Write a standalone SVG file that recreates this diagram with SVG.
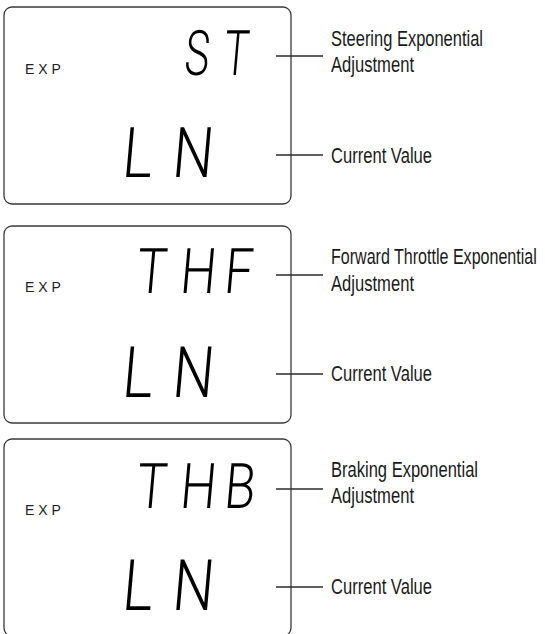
<svg xmlns="http://www.w3.org/2000/svg" width="545" height="634" viewBox="0 0 545 634">
<style>
.box{fill:#fff;stroke:#3a3a3a;stroke-width:1.3}
.lead{stroke:#2a2a2a;stroke-width:1.3;fill:none}
.lbl{font-family:"Liberation Sans",Arial,sans-serif;font-size:22px;fill:#1a1a1a}
.exp{font-family:"Liberation Sans",Arial,sans-serif;font-size:14px;fill:#222}
.lcd{font-family:Roboto,"Liberation Sans",sans-serif;font-weight:300;fill:#000}
</style>
<rect width="545" height="634" fill="#fff"/>
<g id="display1">
<rect class="box" x="4" y="7" width="287" height="197" rx="8"/>
<text class="exp" x="25" y="74">E X P</text>
<g transform="translate(183.2,75) skewX(-5) scale(0.66,1)"><text class="lcd" font-size="63" x="0 59" y="0">ST</text></g>
<g transform="translate(120.9,177) skewX(-5) scale(0.82,1)"><text class="lcd" font-size="70" x="0 61" y="0">LN</text></g>
</g>
<g id="display2">
<rect class="box" x="4" y="226" width="287" height="197" rx="8"/>
<text class="exp" x="25" y="292">E X P</text>
<g transform="translate(135,293) skewX(-5) scale(0.8,1)"><text class="lcd" font-size="63" x="0 55 110" y="0">THF</text></g>
<g transform="translate(120.9,397) skewX(-5) scale(0.82,1)"><text class="lcd" font-size="71" x="0 61" y="0">LN</text></g>
</g>
<g id="display3">
<rect class="box" x="4" y="439" width="287" height="197" rx="8"/>
<text class="exp" x="25" y="515">E X P</text>
<g transform="translate(135,508) skewX(-5) scale(0.8,1)"><text class="lcd" font-size="63" x="0 55 110" y="0">THB</text></g>
<g transform="translate(120.9,610) skewX(-5) scale(0.82,1)"><text class="lcd" font-size="71" x="0 61" y="0">LN</text></g>
</g>
<g id="connectors">
<line class="lead" x1="276" y1="56" x2="323" y2="56"/>
<line class="lead" x1="276" y1="155" x2="323" y2="155"/>
<line class="lead" x1="276" y1="275" x2="323" y2="275"/>
<line class="lead" x1="276" y1="374" x2="323" y2="374"/>
<line class="lead" x1="276" y1="489" x2="323" y2="489"/>
<line class="lead" x1="276" y1="587" x2="323" y2="587"/>
</g>
<g id="labels">
<text class="lbl" x="331" y="46" textLength="152" lengthAdjust="spacingAndGlyphs">Steering Exponential</text>
<text class="lbl" x="331" y="72" textLength="83" lengthAdjust="spacingAndGlyphs">Adjustment</text>
<text class="lbl" x="331" y="163" textLength="101" lengthAdjust="spacingAndGlyphs">Current Value</text>
<text class="lbl" transform="translate(331,264) scale(0.73,1)" x="0" y="0">Forward Throttle Exponential</text>
<text class="lbl" x="331" y="291" textLength="83" lengthAdjust="spacingAndGlyphs">Adjustment</text>
<text class="lbl" x="331" y="381" textLength="101" lengthAdjust="spacingAndGlyphs">Current Value</text>
<text class="lbl" x="331" y="477" textLength="147" lengthAdjust="spacingAndGlyphs">Braking Exponential</text>
<text class="lbl" x="331" y="503" textLength="83" lengthAdjust="spacingAndGlyphs">Adjustment</text>
<text class="lbl" x="331" y="594" textLength="101" lengthAdjust="spacingAndGlyphs">Current Value</text>
</g>
</svg>
